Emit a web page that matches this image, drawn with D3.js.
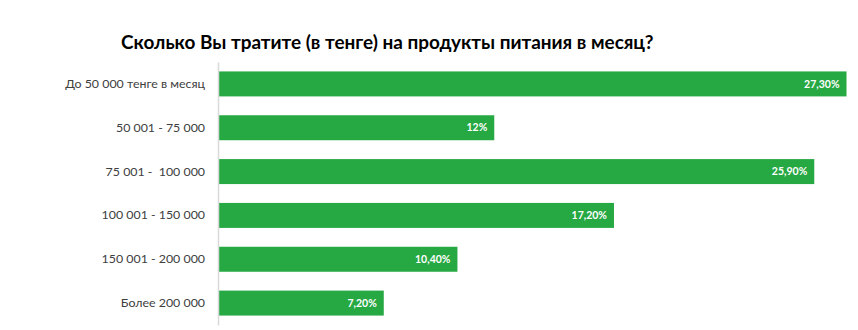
<!DOCTYPE html>
<html>
<head>
<meta charset="utf-8">
<script src="https://cdn.jsdelivr.net/npm/d3@7"></script>
<style>
  html, body { margin: 0; padding: 0; background: #ffffff; }
  svg { display: block; }
  svg text { white-space: pre; }
</style>
</head>
<body>
<svg id="chart" width="858" height="330"></svg>
<script>
const title = "Сколько Вы тратите (в тенге) на продукты питания в месяц?";
const categories = [
  "До 50 000 тенге в месяц",
  "50 001 - 75 000",
  "75 001 -  100 000",
  "100 001 - 150 000",
  "150 001 - 200 000",
  "Более 200 000"
];
const values = [27.3, 12, 25.9, 17.2, 10.4, 7.2];
const valueLabels = ["27,30%", "12%", "25,90%", "17,20%", "10,40%", "7,20%"];

const W = 858, H = 330;
const margin = { left: 218, top: 62, bottom: 5 };
const svg = d3.select("#chart");

const x = d3.scaleLinear().domain([0, 27.3]).range([margin.left, 846.5]);
const y = d3.scaleBand().domain(categories).range([margin.top, 325]).paddingInner(0.43).paddingOuter(0.215);

const font = "Lato, 'Open Sans', 'Liberation Sans', sans-serif";

// title
const t = svg.append("text")
  .attr("x", 121).attr("y", 49)
  .attr("font-family", font).attr("font-weight", "bold")
  .attr("font-size", 18).attr("fill", "#000")
  .text(title);
const tw = t.node().getComputedTextLength();
t.attr("font-size", 18 * 533 / tw);

// bars
svg.append("g").selectAll("rect").data(categories).join("rect")
  .attr("x", x(0))
  .attr("y", d => y(d))
  .attr("width", (d, i) => x(values[i]) - x(0))
  .attr("height", y.bandwidth())
  .attr("fill", "#26a843");

// axis line
const yAxis = svg.append("g").attr("transform", `translate(${margin.left},0)`)
  .call(d3.axisLeft(y).tickSize(0).tickPadding(13));
yAxis.select(".domain").attr("stroke", "#d9d9d9").attr("stroke-width", 1.5);
yAxis.selectAll("text")
  .attr("font-family", font).attr("font-size", 13).attr("fill", "#404040");
let maxW = 0;
yAxis.selectAll("text").each(function() { maxW = Math.max(maxW, this.getComputedTextLength()); });
yAxis.selectAll("text").attr("font-size", 13 * 140 / maxW);

// value labels
svg.append("g").selectAll("text").data(categories).join("text")
  .attr("x", (d, i) => x(values[i]) - 7)
  .attr("y", d => y(d) + y.bandwidth() / 2)
  .attr("dy", "0.35em")
  .attr("text-anchor", "end")
  .attr("font-family", font).attr("font-weight", "bold")
  .attr("font-size", 10.5).attr("fill", "#ffffff")
  .text((d, i) => valueLabels[i]);
</script>
</body>
</html>
